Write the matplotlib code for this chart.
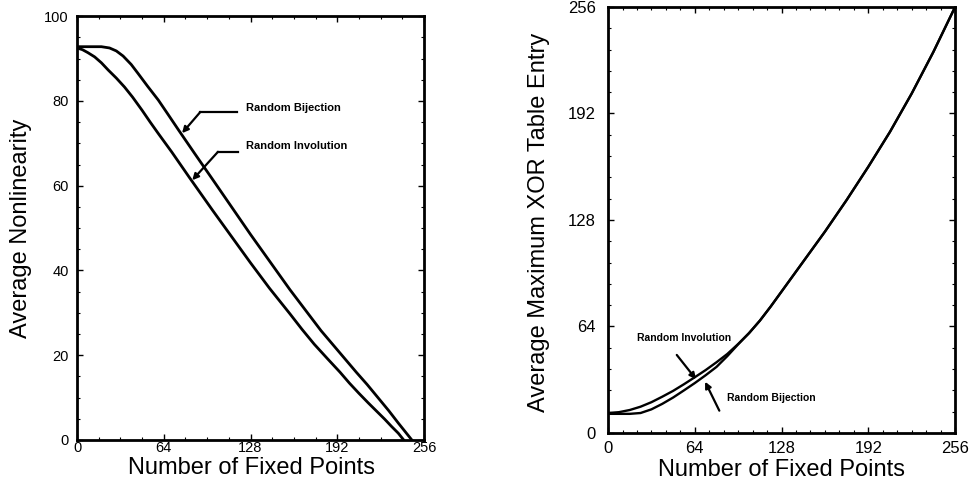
import matplotlib
matplotlib.use("Agg")
import matplotlib.pyplot as plt
from matplotlib.ticker import MultipleLocator

plt.rcParams["font.family"] = ["Liberation Sans", "DejaVu Sans"]

# --- left panel: average nonlinearity vs number of fixed points ---
nl_bij_x = [0, 10, 18, 24, 29, 34, 40, 45, 52, 60, 67, 75, 87, 100, 128, 157, 180, 193, 206,
            214, 222, 230, 237, 243, 247]
nl_bij_y = [92.8, 92.8, 92.8, 92.5, 91.8, 90.6, 88.6, 86.5, 83.5, 80.2, 76.9, 73.1, 67.5, 61.5,
            48.5, 35.5, 25.8, 20.9, 16.0, 13.1, 10.0, 6.9, 4.0, 1.6, 0.0]
nl_inv_x = [0, 4, 8, 13, 18, 23, 29, 35, 41, 48, 54, 60, 70, 83, 100, 128, 142, 157, 166, 175,
            185, 194, 201, 208, 215, 221, 227, 232, 237, 241]
nl_inv_y = [92.5, 92.1, 91.4, 90.4, 89.0, 87.3, 85.4, 83.3, 80.9, 77.8, 75.0, 72.3, 67.9, 61.9,
            54.2, 41.8, 35.8, 29.8, 26.1, 22.6, 19.1, 16.0, 13.4, 11.0, 8.7, 6.8, 4.9, 3.2, 1.6,
            0.0]

# --- right panel: average maximum XOR table entry ---
xor_x = [0, 8, 16, 24, 32, 40, 48, 56, 64, 72, 80, 88, 96, 104, 112, 120, 128, 144, 160, 176,
         192, 208, 224, 240, 256]
xor_inv_y = [12, 12.5, 13.8, 15.8, 18.5, 21.8, 25.3, 29.3, 33.5, 37.8, 42.5, 47.5, 53.5, 60.0,
             67.5, 76, 85, 103, 121, 140, 160, 181, 204, 229, 256]
xor_bij_y = [11.5, 11.5, 11.5, 12.0, 14.2, 17.5, 21.3, 25.6, 30.0, 34.7, 39.7, 46.2, 53.3, 60.0,
             67.5, 76, 85, 103, 121, 140, 160, 181, 204, 229, 256]

fixed_ticks = [0, 64, 128, 192, 256]
nl_ticks = [0, 20, 40, 60, 80, 100]


def style_axes(ax, tick_size, xpad, ypad):
    for s in ax.spines.values():
        s.set_linewidth(2.0)
    ax.tick_params(which="both", direction="in", top=True, right=True)
    ax.tick_params(which="major", length=4, width=1.0)
    ax.tick_params(which="minor", length=2.5, width=0.8)
    ax.tick_params(axis="x", labelsize=tick_size, pad=xpad)
    ax.tick_params(axis="y", labelsize=tick_size, pad=ypad)


def leader(ax, tip, start):
    ax.annotate("", xy=tip, xytext=start,
                arrowprops=dict(arrowstyle="-|>", lw=1.6, color="black", mutation_scale=9,
                                shrinkA=0, shrinkB=0))


fig = plt.figure(figsize=(9.71, 4.86), dpi=100)
ax1 = fig.add_axes([0.0793, 0.0947, 0.3574, 0.872])
ax2 = fig.add_axes([0.6262, 0.1091, 0.3574, 0.8765])

# left
ax1.plot(nl_bij_x, nl_bij_y, color="black", lw=2.0)
ax1.plot(nl_inv_x, nl_inv_y, color="black", lw=2.0)
ax1.set_xlim(0, 256)
ax1.set_ylim(0, 100)
ax1.set_xticks(fixed_ticks)
ax1.set_yticks(nl_ticks)
ax1.xaxis.set_minor_locator(MultipleLocator(16))
ax1.yaxis.set_minor_locator(MultipleLocator(5))
style_axes(ax1, 10.5, 1, 6)
ax1.set_xlabel("Number of Fixed Points", fontsize=17)
ax1.set_ylabel("Average Nonlinearity", fontsize=17)
ax1.xaxis.set_label_coords(0.503, -0.04)
ax1.yaxis.set_label_coords(-0.13, 0.5)

# bent leader lines for the left-panel labels
ax1.plot([118, 91], [77.4, 77.4], color="black", lw=1.6)
leader(ax1, (77.5, 72.4), (91, 77.4))
ax1.text(125, 78.3, "Random Bijection", fontsize=8, fontweight="bold", va="center")
ax1.plot([119, 104], [68.0, 68.0], color="black", lw=1.6)
leader(ax1, (85, 61.3), (104, 68.0))
ax1.text(125, 69.3, "Random Involution", fontsize=8, fontweight="bold", va="center")

# right
ax2.plot(xor_x, xor_inv_y, color="black", lw=1.7)
ax2.plot(xor_x, xor_bij_y, color="black", lw=1.7)
ax2.set_xlim(0, 256)
ax2.set_ylim(0, 256)
ax2.set_xticks(fixed_ticks)
ax2.set_yticks(fixed_ticks)
ax2.xaxis.set_minor_locator(MultipleLocator(64 / 6))
ax2.yaxis.set_minor_locator(MultipleLocator(64 / 5))
style_axes(ax2, 12, 6, 9)
ax2.set_xlabel("Number of Fixed Points", fontsize=17)
ax2.set_ylabel("Average Maximum XOR Table Entry", fontsize=17)
ax2.xaxis.set_label_coords(0.5, -0.062)
ax2.yaxis.set_label_coords(-0.167, 0.495)

leader(ax2, (64.9, 32.3), (50.7, 46.9))
ax2.text(21.4, 57, "Random Involution", fontsize=7.5, fontweight="bold", va="center")
leader(ax2, (71.6, 30.8), (82.1, 13.4))
ax2.text(87.6, 20.8, "Random Bijection", fontsize=7.5, fontweight="bold", va="center")

fig.savefig("out.png", dpi=100, facecolor="white")
